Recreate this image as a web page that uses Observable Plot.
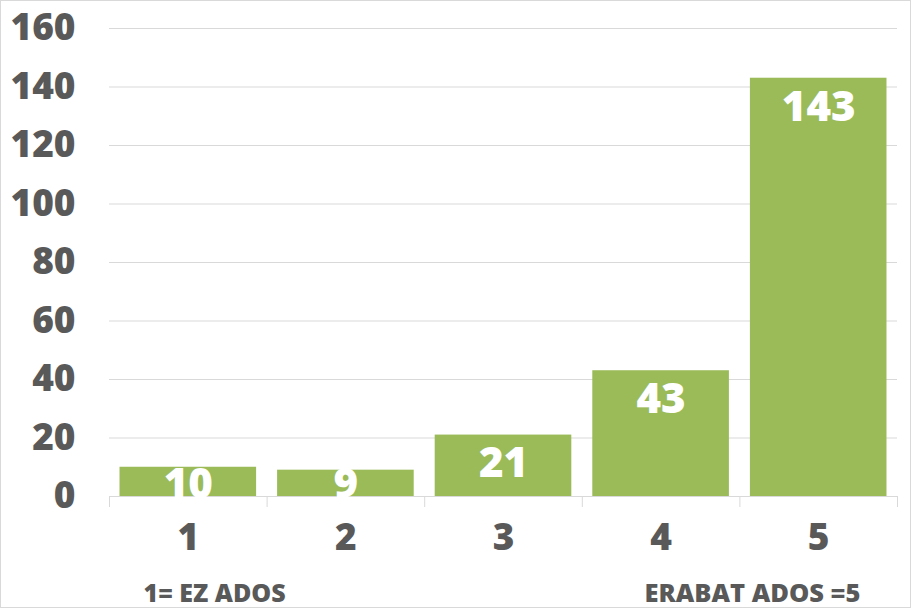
<!DOCTYPE html>
<html><head><meta charset="utf-8">
<script src="https://cdn.jsdelivr.net/npm/d3@7"></script>
<script src="https://cdn.jsdelivr.net/npm/@observablehq/plot@0.6"></script>
<style>body{margin:0;background:#fff} #chart svg{display:block}</style>
</head><body><div id="chart"></div>
<script>
const categories = [1, 2, 3, 4, 5];
const values = [10, 9, 21, 43, 143];
const yTicks = [0, 20, 40, 60, 80, 100, 120, 140, 160];
const boundaries = [0.5, 1.5, 2.5, 3.5, 4.5, 5.5];
const noteLeft = "1= EZ ADOS";
const noteRight = "ERABAT ADOS =5";

const data = categories.map((c, i) => ({cat: c, value: values[i]}));
const green = "#9BBB59", gray = "#595959", grid = "#d9d9d9";

const chart = Plot.plot({
  width: 911, height: 608,
  marginLeft: 109, marginRight: 14, marginTop: 28, marginBottom: 112,
  style: {fontFamily: "'Open Sans', 'Roboto', sans-serif", fontWeight: 800, color: gray, background: "#fff", overflow: "visible", outline: "1px solid " + grid, outlineOffset: "-1px"},
  x: {domain: [0.5, 5.5]},
  y: {domain: [0, 160]},
  marks: [
    Plot.ruleY(yTicks.filter(t => t > 0), {stroke: grid, strokeWidth: 1}),
    Plot.rectY(data, {x1: d => d.cat - 0.5, x2: d => d.cat + 0.5, y: "value", fill: green, insetLeft: 10.5, insetRight: 10.5}),
    Plot.ruleY([0], {stroke: grid, strokeWidth: 1}),
    Plot.axisX({ticks: boundaries, tickFormat: () => "", tickSize: 11, stroke: grid, strokeWidth: 1, label: null}),
    Plot.axisX({ticks: categories, tickFormat: d => String(d), tickSize: 0, tickPadding: 27, fontSize: 37, fill: gray, label: null}),
    Plot.axisY({ticks: yTicks, tickSize: 0, tickPadding: 34, fontSize: 37, fill: gray, label: null}),
    Plot.text(data, {x: "cat", y: d => Math.max(d.value - 9.9, 4.2), text: d => String(d.value), fill: "#fff", fontSize: 42, fontWeight: 800, textAnchor: "middle", lineAnchor: "middle"}),
    Plot.text([noteLeft], {frameAnchor: "bottom-left", dx: 34, dy: 97, text: d => d, textAnchor: "start", lineAnchor: "middle", fontSize: 25, fill: gray}),
    Plot.text([noteRight], {frameAnchor: "bottom-right", dx: -37, dy: 97, text: d => d, textAnchor: "end", lineAnchor: "middle", fontSize: 25.5, fill: gray})
  ]
});
document.getElementById("chart").appendChild(chart);
</script>
</body></html>
